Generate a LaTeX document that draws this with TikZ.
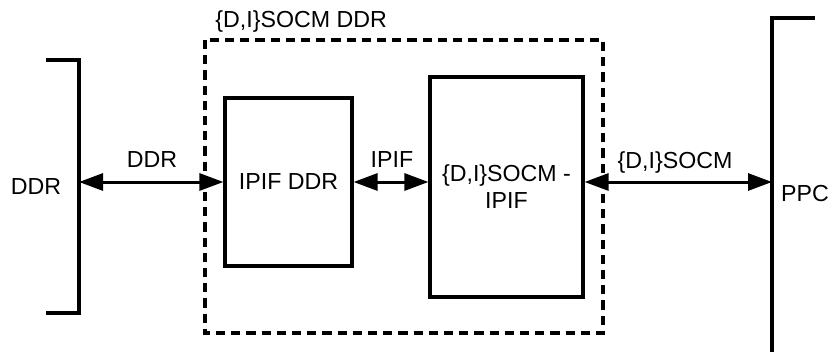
\documentclass[tikz,border=0pt]{standalone}
\usepackage{fontspec}
\setmainfont{Liberation Sans}
\usetikzlibrary{positioning,calc,arrows.meta}
\tikzset{
  block/.style={draw=black,line width=1.6pt,fill=white,align=center,inner sep=2pt},
  wrap/.style={draw=black,line width=1.7pt,dash pattern=on 4.6pt off 3pt},
  edge/.style={draw=black,line width=1.6pt},
  link/.style={draw=black,line width=1.5pt,{Triangle[length=12pt,width=8.5pt]}-{Triangle[length=12pt,width=8.5pt]}},
  lbl/.style={inner sep=0pt,font=\fontsize{11.6}{13.5}\selectfont},
}
\begin{document}
\begin{tikzpicture}[x=0.5pt,y=-0.5pt,font=\fontsize{11.6}{13.5}\selectfont]
        \useasboundingbox (0,0) rectangle (838,352);
        \draw[wrap] (205,40) rectangle (603,333);
        \node[lbl,anchor=south west] (wraplbl) at (215,33) {\{D,I\}SOCM DDR};
        \node[block,minimum width=63.5pt,minimum height=84pt] (ipifddr) at (288.5,182) {IPIF DDR};
        \node[block,minimum width=76.5pt,minimum height=110pt] (socm) at (506.5,187) {\{D,I\}SOCM -\\IPIF};
        \coordinate (ddrport) at (79,182);
        \coordinate (ppcport) at (772,182);
        \draw[edge] (46,60) -| (79,313) -- (46,313);
        \draw[edge] (815,18) -| (772,352);
        \node[lbl] (ddr) at (36,187) {DDR};
        \node[lbl] (ppc) at (805,194) {PPC};
        \draw[link] (ddrport) -- (ipifddr.west);
        \draw[link] (ipifddr.east) -- (socm.west |- ipifddr.east);
        \draw[link] (socm.east |- ipifddr.east) -- (ppcport);
        \node[lbl] (ddrbus) at (152,160) {DDR};
        \node[lbl] (ipifbus) at (392,160) {IPIF};
        \node[lbl] (socmbus) at (675,163) {\{D,I\}SOCM};
      \end{tikzpicture}
\end{document}
